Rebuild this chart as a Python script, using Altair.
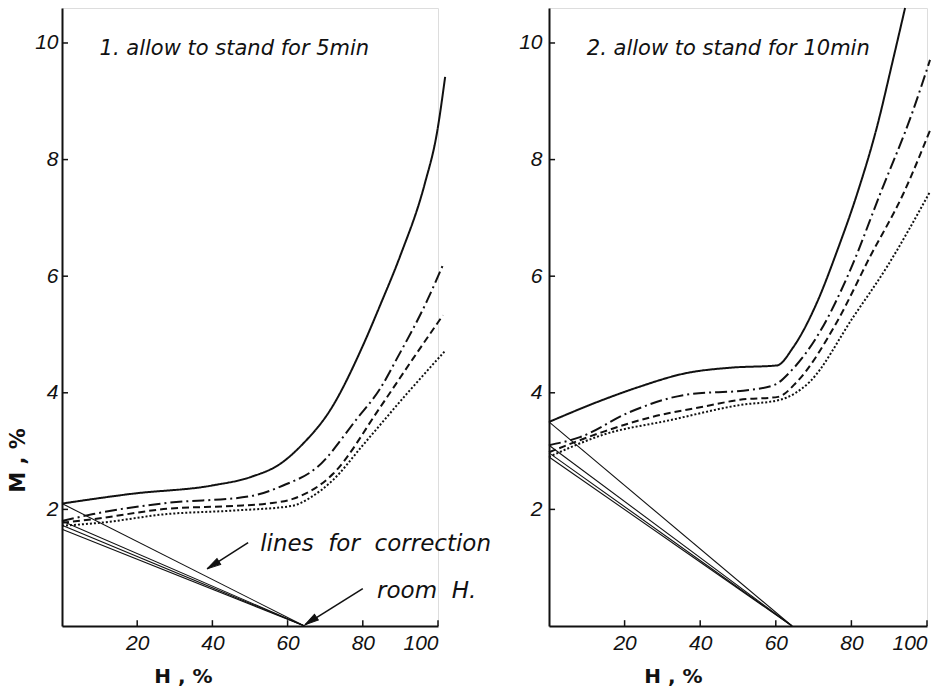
import altair as alt
import pandas as pd

# ---- Panel 1: allow to stand for 5 min (H in %, M in %) ----
L_SOLID_H = [0, 18.9, 39.9, 50.4, 58.0, 64.0, 71.3, 80.1, 84.6, 89.9, 96.5, 99.7, 101.9]
L_SOLID_M = [2.10, 2.27, 2.41, 2.56, 2.78, 3.12, 3.70, 4.82, 5.50, 6.34, 7.59, 8.45, 9.42]
L_DASHDOT_H = [0, 8.3, 27.9, 49.5, 58.8, 67.8, 78.5, 84.6, 89.1, 97.1, 101.3]
L_DASHDOT_M = [1.80, 1.92, 2.11, 2.22, 2.41, 2.72, 3.56, 4.07, 4.59, 5.58, 6.19]
L_DASHED_H = [0, 9.2, 27.9, 45.5, 54.5, 61.4, 72.1, 84.6, 93.4, 101.3]
L_DASHED_M = [1.77, 1.84, 2.01, 2.06, 2.10, 2.18, 2.61, 3.75, 4.59, 5.33]
L_DOTTED_H = [0, 10.1, 27.9, 45.5, 61.2, 66.0, 72.0, 80.0, 91.8, 101.9]
L_DOTTED_M = [1.72, 1.77, 1.92, 1.98, 2.06, 2.20, 2.50, 3.10, 3.99, 4.72]
L_CORR_START = [2.10, 1.80, 1.73, 1.66]
L_ROOM_H = 64.5

# ---- Panel 2: allow to stand for 10 min ----
R_SOLID_H = [0, 14.3, 23.3, 36.5, 47.9, 60.3, 64.6, 70.9, 76.2, 81.5, 86.8, 91.0, 94.2]
R_SOLID_M = [3.50, 3.88, 4.09, 4.34, 4.43, 4.47, 4.78, 5.55, 6.43, 7.41, 8.57, 9.71, 10.6]
R_DASHDOT_H = [0, 8.2, 21.4, 36.5, 53.2, 59.8, 63.8, 71.7, 79.6, 87.6, 96.3, 100.8]
R_DASHDOT_M = [3.10, 3.24, 3.67, 3.97, 4.05, 4.14, 4.36, 5.05, 6.09, 7.41, 8.84, 9.71]
R_DASHED_H = [0, 14.3, 27.5, 40.7, 50.5, 60.6, 65.6, 76.2, 84.9, 93.7, 100.8]
R_DASHED_M = [2.98, 3.33, 3.59, 3.76, 3.88, 3.93, 4.19, 5.22, 6.33, 7.41, 8.50]
R_DOTTED_H = [0, 14.3, 32.0, 50.5, 61.1, 69.0, 80.4, 89.4, 100.8]
R_DOTTED_M = [2.90, 3.28, 3.53, 3.79, 3.88, 4.19, 5.29, 6.16, 7.45]
R_CORR_START = [3.50, 3.10, 2.97, 2.90]
R_ROOM_H = 64.3

X_LABELS = [20, 40, 60, 80, 100]
Y_LABELS = [2, 4, 6, 8, 10]

STYLES = ["solid", "dashdot", "dashed", "dotted"]
DASHES = [[1, 0], [12, 4, 2, 4], [7, 4], [2, 2]]

# annotation arrows (data coordinates of the left panel)
ARROW_NAMES = ["lines for correction", "room H."]
ARROW_X0 = [49.5, 80.0]
ARROW_Y0 = [1.43, 0.64]
ARROW_X1 = [38.6, 64.6]
ARROW_Y1 = [0.98, 0.02]
ARROW_ANGLE = [237.6, 236.1]

LABEL_FONT = "Liberation Sans, sans-serif"
TEXT_FONT = "DejaVu Sans, sans-serif"
INK = "#111111"
NB = "\u00a0"


def curves_frame(series):
    rows = []
    for style, hs, ms in series:
        for i, (h, m) in enumerate(zip(hs, ms)):
            rows.append({"H": h, "M": m, "style": style, "i": i})
    return pd.DataFrame(rows)


def corr_frame(starts, room_h):
    rows = []
    for k, m0 in enumerate(starts):
        rows.append({"H": 0, "M": m0, "line": k})
        rows.append({"H": room_h, "M": 0, "line": k})
    return pd.DataFrame(rows)


def panel(series, starts, room_h, title, width, y_title, x_title_x, extra=None):
    xs = alt.Scale(domain=[0, 100], nice=False)
    ys = alt.Scale(domain=[0, 10.6], nice=False)
    x_axis = alt.Axis(values=X_LABELS, format="d", ticks=False, grid=False, domainWidth=2,
                      domainColor=INK, labelFont=LABEL_FONT, labelFontStyle="italic",
                      labelFontSize=21, labelColor=INK, labelPadding=6,
                      title="H , %", titleFont=TEXT_FONT, titleFontWeight="bold",
                      titleFontSize=20, titleColor=INK, titleX=x_title_x, titleY=50,
                      titleAlign="center", titleBaseline="middle")
    common_y = dict(values=Y_LABELS, format="d", ticks=False, grid=False, domainWidth=2,
                    domainColor=INK, labelFont=LABEL_FONT, labelFontStyle="italic",
                    labelFontSize=21, labelColor=INK)
    if y_title:
        y_axis = alt.Axis(labelPadding=4, title="M , %", titleFont=TEXT_FONT,
                          titleFontWeight="bold", titleFontSize=21, titleColor=INK,
                          titleX=-44, titleY=452, titleAlign="center",
                          titleBaseline="middle", titleAngle=270, **common_y)
    else:
        y_axis = alt.Axis(labelPadding=7, title=None, **common_y)

    cdf = curves_frame(series)
    curves = alt.Chart(cdf).mark_line(interpolate="monotone", strokeWidth=2, color=INK).encode(
        x=alt.X("H:Q", scale=xs, axis=x_axis),
        y=alt.Y("M:Q", scale=ys, axis=y_axis),
        strokeDash=alt.StrokeDash("style:N", scale=alt.Scale(domain=STYLES, range=DASHES), legend=None),
        detail="style:N",
        order="i:Q",
    )
    corr = alt.Chart(corr_frame(starts, room_h)).mark_line(strokeWidth=1.1, color=INK).encode(
        x="H:Q", y="M:Q", detail="line:N"
    )
    # inward ticks
    xt = alt.Chart(pd.DataFrame({"v": X_LABELS, "a": 0.0, "b": 0.1})).mark_rule(
        color=INK, strokeWidth=1.5).encode(x="v:Q", y="a:Q", y2="b:Q")
    yt = alt.Chart(pd.DataFrame({"v": Y_LABELS, "a": 0.0, "b": 1.6})).mark_rule(
        color=INK, strokeWidth=1.5).encode(y="v:Q", x="a:Q", x2="b:Q")
    ttl = alt.Chart().mark_text(align="left", baseline="middle", font=TEXT_FONT,
                                fontStyle="italic", fontSize=21, color=INK).encode(
        x=alt.datum(10), y=alt.datum(9.9), text=alt.value(title))
    layers = [curves, corr, xt, yt, ttl]
    if extra:
        layers += extra
    return alt.layer(*layers).properties(width=width, height=618)


# arrows with their labels
adf = pd.DataFrame({"name": ARROW_NAMES, "x0": ARROW_X0, "y0": ARROW_Y0,
                    "x1": ARROW_X1, "y1": ARROW_Y1, "ang": ARROW_ANGLE})
shafts = alt.Chart(adf).mark_rule(strokeWidth=1.6, color=INK).encode(
    x="x0:Q", y="y0:Q", x2="x1:Q", y2="y1:Q")
heads = alt.Chart(adf).mark_point(shape="M0,0L-0.4,1.6L0.4,1.6Z", filled=True, size=300,
                                  fill=INK, stroke=INK, strokeWidth=1, opacity=1).encode(
    x="x1:Q", y="y1:Q", angle=alt.Angle("ang:Q", scale=None))
note1 = alt.Chart().mark_text(align="left", baseline="middle", font=TEXT_FONT,
                              fontStyle="italic", fontSize=23, color=INK).encode(
    x=alt.datum(52.7), y=alt.datum(1.41),
    text=alt.value(f"lines{NB}{NB}for{NB}{NB}correction"))
note2 = alt.Chart().mark_text(align="left", baseline="middle", font=TEXT_FONT,
                              fontStyle="italic", fontSize=23, color=INK).encode(
    x=alt.datum(83.8), y=alt.datum(0.60), text=alt.value(f"room{NB}{NB}H."))

left = panel(
    [("solid", L_SOLID_H, L_SOLID_M), ("dashdot", L_DASHDOT_H, L_DASHDOT_M),
     ("dashed", L_DASHED_H, L_DASHED_M), ("dotted", L_DOTTED_H, L_DOTTED_M)],
    L_CORR_START, L_ROOM_H, "1. allow to stand for 5min", 376, True, 121,
    extra=[shafts, heads, note1, note2])
right = panel(
    [("solid", R_SOLID_H, R_SOLID_M), ("dashdot", R_DASHDOT_H, R_DASHDOT_M),
     ("dashed", R_DASHED_H, R_DASHED_M), ("dotted", R_DOTTED_H, R_DOTTED_M)],
    R_CORR_START, R_ROOM_H, "2. allow to stand for 10min", 378, False, 124)

chart = alt.hconcat(left, right, spacing=111, bounds="flush").properties(
    padding={"left": 6, "top": 3, "right": 5, "bottom": 5}
).configure_view(stroke=None).configure(background="white")

chart.save("out.html", embed_options={"renderer": "svg", "actions": False})
